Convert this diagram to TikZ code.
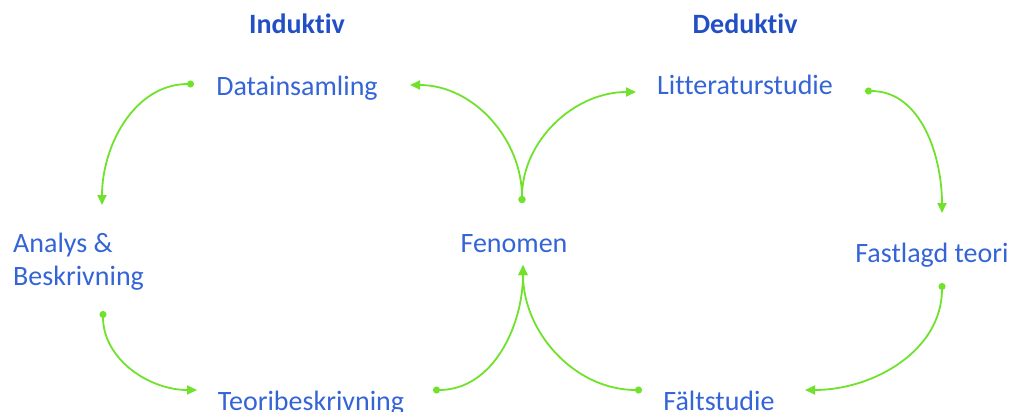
\documentclass[tikz,border=0pt]{standalone}
\usepackage{fontspec}
\setmainfont[Ligatures=NoCommon]{Carlito}
\usetikzlibrary{arrows.meta}
\definecolor{txtblue}{RGB}{52,100,214}
\definecolor{headblue}{RGB}{34,80,196}
\definecolor{flowgreen}{RGB}{112,226,44}
\tikzset{
  label/.style={text=txtblue,font=\fontsize{28}{33}\selectfont,inner sep=0pt,anchor=base},
  head/.style={label,text=headblue,font=\fontsize{28}{33}\selectfont\bfseries},
  flow/.style={draw=flowgreen,line width=1.8pt,
    {Circle[length=7pt]}-{Triangle[length=10pt,width=9pt]}},
}
\begin{document}
\begin{tikzpicture}[x=1pt,y=-1pt]
\useasboundingbox (0,0) rectangle (1014,412);

% headings
\node[head] (ind) at (297,34) {Induktiv};
\node[head] (ded) at (745,34) {Deduktiv};

% stages
\node[label] (dat) at (297,95) {Datainsamling};
\node[label] (lit) at (745,94) {Litteraturstudie};
\node[label,anchor=base west,align=left] (ana) at (13,285) {Analys \&\\Beskrivning};
\node[label] (fen) at (514,252) {Fenomen};
\node[label] (fas) at (932,262) {Fastlagd teori};
\node[label] (teo) at (311,410) {Teoribeskrivning};
\node[label] (fal) at (719,410) {Fältstudie};

% connection points around the stages
\coordinate (dat-l) at (194,84);
\coordinate (dat-r) at (410,85);
\coordinate (lit-l) at (636,92);
\coordinate (lit-r) at (865,91);
\coordinate (ana-t) at (102,205);
\coordinate (ana-b) at (103,311);
\coordinate (fen-t) at (522,203);
\coordinate (fen-b) at (523,265);
\coordinate (fas-t) at (942,213);
\coordinate (fas-b) at (942,283);
\coordinate (teo-l) at (197,390);
\coordinate (teo-r) at (433,390);
\coordinate (fal-l) at (642,390);
\coordinate (fal-r) at (805,390);

% inductive cycle
\draw[flow] (dat-l) to[out=180,in=90] (ana-t);
\draw[flow] (ana-b) to[out=-90,in=180] (teo-l);
\draw[flow] (teo-r) to[out=0,in=-90] (fen-b);
\draw[flow] (fen-t) to[out=90,in=0] (dat-r);

% deductive cycle
\draw[flow] (fen-t) to[out=90,in=180] (lit-l);
\draw[flow] (lit-r) to[out=0,in=90] (fas-t);
\draw[flow] (fas-b) to[out=-90,in=0] (fal-r);
\draw[flow] (fal-l) to[out=180,in=-90] (fen-b);
\end{tikzpicture}
\end{document}
